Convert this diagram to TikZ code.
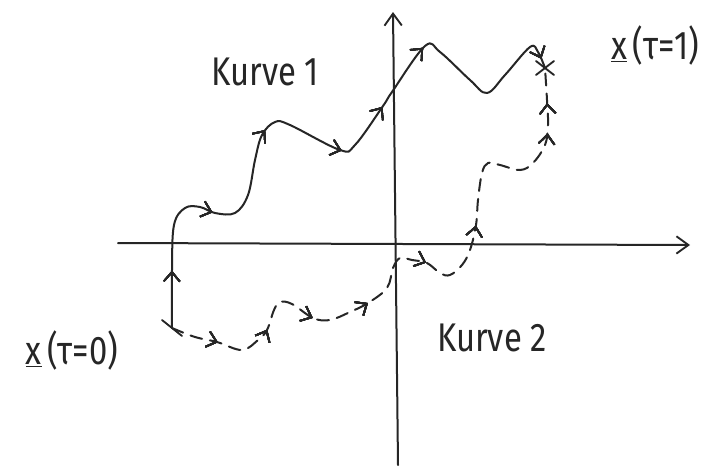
\documentclass[tikz,border=0pt]{standalone}
\usepackage{fontspec}
\setmainfont{Fira Sans}
\usetikzlibrary{arrows.meta,decorations.markings}
\begin{document}
\begin{tikzpicture}[x=0.75pt,y=-0.75pt,
  line cap=round, line join=round,
  ink/.style={line width=1.5pt, color=black!85},
  axis/.style={ink, -{Straight Barb[length=9pt,width=13pt,line width=1.4pt]}},
  mk/.style={decoration={markings, mark=at position #1 with {\arrow{Straight Barb[length=7pt,width=12pt,line width=1.3pt]}}}, postaction={decorate}},
  lbl/.style={font=\fontsize{30}{34}\selectfont, text=black!85, inner sep=0pt, xscale=0.82},
  crossmark/.style={ink, line width=1.4pt},
  curveone/.style={ink, mk=0.086, mk=0.23, mk=0.40, mk=0.53, mk=0.625, mk=0.733, mk=0.985},
  curvetwo/.style={ink, dash pattern=on 9pt off 6pt, mk=0.078, mk=0.173, mk=0.284, mk=0.38, mk=0.517, mk=0.656, mk=0.894, mk=0.943}
]
\useasboundingbox (0,0) rectangle (728,468);
\fill[white] (0,0) rectangle (728,468);

% axes
\coordinate (xl) at (118,243);
\coordinate (xr) at (690,245);
\coordinate (yb) at (398,465);
\coordinate (yt) at (393,12);
\draw[axis] (xl) -- (xr);
\draw[axis] (yb) -- (yt);

% start / end points
\coordinate (x0) at (172,328);
\coordinate (x1) at (545,68);

% curve 1 (solid)
\draw[curveone] plot[smooth, tension=0.6] coordinates {(x0) (172,270) (174,225) (185,208) (200,207) (215,213) (235,213) (248,195) (255,160) (262,135) (275,122) (290,125) (340,150) (355,145) (383,106) (392,92) (425,46) (440,52) (470,80) (487,93) (505,75) (530,47) (538,52) (x1)};

% curve 2 (dashed)
\draw[curvetwo] plot[smooth, tension=0.6] coordinates {(x0) (195,337) (217,342) (242,350) (258,340) (267,330) (274,310) (280,302) (292,304) (313,318) (330,320) (350,312) (368,303) (387,288) (393,268) (400,258) (412,260) (427,263) (440,273) (450,275) (462,265) (470,250) (476,225) (478,200) (482,173) (488,163) (500,165) (520,170) (533,163) (545,145) (548,125) (547,100) (x1)};

% cross marks at the end points
\draw[crossmark] ([shift={(-10,-8)}]x0) -- ([shift={(10,8)}]x0);
\draw[crossmark] ([shift={(-9,-7)}]x1) -- ([shift={(9,7)}]x1);
\draw[crossmark] ([shift={(-9,7)}]x1) -- ([shift={(9,-7)}]x1);

% labels
\node[lbl] (k1) at (265,72) {Kurve 1};
\node[lbl] (k2) at (492,338) {Kurve 2};
\node[lbl] (l0) at (72,350) {\underline{x}\,(τ=0)};
\node[lbl] (l1) at (655,45) {\underline{x}\,(τ=1)};
\end{tikzpicture}
\end{document}
